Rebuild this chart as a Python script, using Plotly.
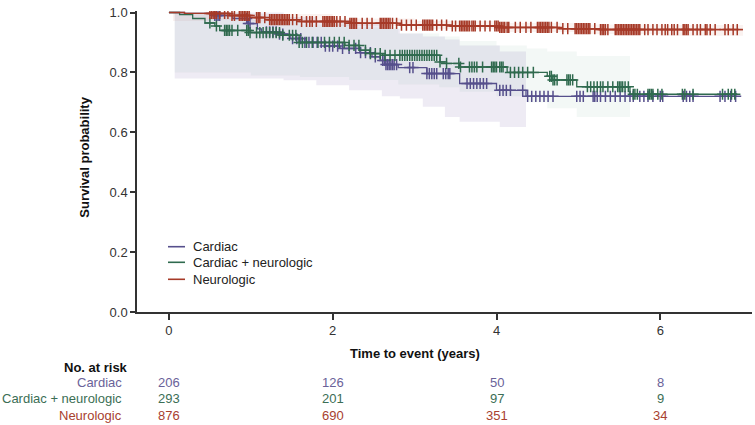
import numpy as np
import plotly.graph_objects as go

# ---------------- data ----------------
cardiac_t = [0.19, 0.56, 0.78, 0.96, 1.08, 1.13, 1.32, 1.48, 1.66, 1.91, 2.09, 2.33, 2.48,
             2.58, 2.64, 2.80, 3.15, 3.55, 4.00, 4.36]
cardiac_s = [0.997, 0.99, 0.98, 0.963, 0.945, 0.935, 0.928, 0.913, 0.90, 0.888, 0.88, 0.866,
             0.852, 0.84, 0.826, 0.816, 0.796, 0.763, 0.74, 0.72]
cardiac_end = 6.94
cardiac_censor = [0.56, 0.58, 0.60, 0.62, 0.95, 0.97, 0.99, 1.19, 1.23, 1.27, 1.31, 1.35, 1.39,
                  1.51, 1.56, 1.61, 1.66, 1.71, 1.76, 1.81, 1.86, 1.91, 1.96, 2.00, 2.06, 2.12,
                  2.20, 2.28, 2.34, 2.40, 2.46, 2.52, 2.61, 2.63, 2.65, 2.67, 2.69, 2.71, 2.73,
                  2.75, 2.78, 2.94, 2.98, 3.15, 3.18, 3.21, 3.24, 3.27, 3.35, 3.38, 3.41, 3.43,
                  3.64, 3.68, 3.72, 3.76, 3.80, 3.84, 3.88, 4.04, 4.08, 4.12, 4.17, 4.32, 4.38,
                  4.43, 4.48, 4.53, 4.58, 4.63, 4.69, 4.98, 5.02, 5.06, 5.18, 5.20, 5.23, 5.27,
                  5.33, 5.39, 5.45, 5.51, 5.57, 5.63, 5.67, 5.75, 5.80, 5.85, 5.91, 6.00, 6.03,
                  6.28, 6.32, 6.36, 6.40, 6.73, 6.79, 6.86, 6.92]
cardiac_band_t = [0.07, 1.40, 1.80, 2.20, 2.60, 2.82, 3.10, 3.37, 3.55, 4.04, 4.36]
cardiac_band_lo = [0.78, 0.774, 0.757, 0.74, 0.72, 0.713, 0.685, 0.651, 0.635, 0.618, 0.618]
cardiac_band_hi = [1.0, 0.985, 0.975, 0.965, 0.945, 0.93, 0.92, 0.91, 0.89, 0.87, 0.87]

cn_t = [0.13, 0.29, 0.44, 0.56, 0.62, 0.99, 1.39, 1.59, 2.15, 2.33, 2.45, 2.61, 3.31, 3.39,
        3.55, 4.13, 4.62, 4.68, 4.98, 5.63]
cn_s = [0.993, 0.98, 0.965, 0.955, 0.94, 0.933, 0.924, 0.90, 0.89, 0.874, 0.863, 0.857, 0.835,
        0.83, 0.818, 0.80, 0.787, 0.775, 0.752, 0.727]
cn_end = 6.94
cn_censor = [0.50, 0.58, 0.68, 0.70, 0.72, 0.74, 0.77, 0.84, 0.95, 0.97, 0.99, 1.07, 1.11, 1.15,
             1.19, 1.23, 1.27, 1.31, 1.35, 1.39, 1.47, 1.51, 1.55, 1.59, 1.63, 1.68, 1.75, 1.82,
             1.90, 1.96, 2.02, 2.08, 2.14, 2.20, 2.26, 2.32, 2.40, 2.46, 2.52, 2.58, 2.64, 2.70,
             2.76, 2.82, 2.85, 2.88, 2.91, 2.94, 2.97, 3.00, 3.03, 3.06, 3.09, 3.12, 3.15, 3.18,
             3.21, 3.24, 3.27, 3.31, 3.39, 3.54, 3.56, 3.67, 3.70, 3.73, 3.76, 3.83, 3.94, 3.96,
             3.98, 4.00, 4.04, 4.06, 4.08, 4.17, 4.22, 4.27, 4.32, 4.38, 4.45, 4.65, 4.67, 4.69,
             4.71, 4.74, 4.86, 4.88, 4.90, 4.93, 5.11, 5.15, 5.19, 5.23, 5.27, 5.30, 5.36, 5.42,
             5.48, 5.50, 5.52, 5.54, 5.57, 5.61, 5.67, 5.69, 5.72, 5.85, 5.87, 5.89, 5.91, 5.97,
             6.02, 6.27, 6.30, 6.40, 6.76, 6.83, 6.87, 6.91]
cn_band_t = [0.07, 1.00, 1.60, 2.20, 2.80, 3.30, 3.55, 4.00, 4.37, 4.62, 4.98, 5.63]
cn_band_lo = [0.80, 0.79, 0.785, 0.775, 0.76, 0.75, 0.735, 0.72, 0.70, 0.68, 0.651, 0.651]
cn_band_hi = [1.0, 0.975, 0.96, 0.95, 0.93, 0.92, 0.905, 0.89, 0.88, 0.87, 0.855, 0.855]

neuro_t = [0.19, 0.74, 0.99, 1.23, 1.59, 2.21, 2.82, 3.43, 4.04, 4.77, 5.26]
neuro_s = [0.997, 0.99, 0.983, 0.976, 0.97, 0.964, 0.958, 0.955, 0.95, 0.946, 0.943]
neuro_end = 7.01
neuro_censor = [0.50, 0.52, 0.54, 0.56, 0.58, 0.62, 0.68, 0.72, 0.77, 0.80, 0.86, 0.88, 0.90,
                0.92, 0.94, 0.96, 0.98, 1.07, 1.09, 1.11, 1.17, 1.23, 1.25, 1.27, 1.29, 1.31,
                1.33, 1.35, 1.37, 1.39, 1.41, 1.43, 1.45, 1.47, 1.51, 1.56, 1.62, 1.68, 1.72,
                1.75, 1.80, 1.88, 1.90, 1.92, 1.94, 1.96, 1.98, 2.00, 2.02, 2.05, 2.09, 2.15,
                2.21, 2.23, 2.25, 2.27, 2.29, 2.36, 2.42, 2.48, 2.58, 2.60, 2.62, 2.64, 2.66,
                2.68, 2.70, 2.73, 2.78, 2.84, 2.90, 2.96, 3.02, 3.10, 3.12, 3.14, 3.16, 3.18,
                3.20, 3.22, 3.27, 3.33, 3.39, 3.46, 3.50, 3.55, 3.57, 3.59, 3.61, 3.63, 3.65,
                3.67, 3.70, 3.72, 3.74, 3.80, 3.86, 3.92, 3.98, 4.00, 4.02, 4.04, 4.06, 4.08,
                4.10, 4.13, 4.15, 4.23, 4.29, 4.36, 4.42, 4.50, 4.52, 4.54, 4.56, 4.58, 4.60,
                4.62, 4.64, 4.67, 4.74, 4.81, 4.87, 4.96, 4.98, 5.00, 5.02, 5.04, 5.06, 5.08,
                5.10, 5.12, 5.14, 5.20, 5.27, 5.29, 5.31, 5.33, 5.36, 5.45, 5.47, 5.49, 5.51,
                5.53, 5.55, 5.57, 5.59, 5.61, 5.63, 5.65, 5.67, 5.69, 5.71, 5.73, 5.75, 5.81,
                5.85, 5.91, 5.96, 6.02, 6.06, 6.09, 6.14, 6.17, 6.21, 6.28, 6.30, 6.32, 6.34,
                6.40, 6.45, 6.49, 6.55, 6.57, 6.61, 6.67, 6.79, 6.83, 6.89, 6.94]
neuro_band_t = [0.05, 0.50, 1.00, 2.00, 3.00, 4.00, 5.00, 6.00, 7.01]
neuro_band_lo = [0.972, 0.975, 0.97, 0.955, 0.945, 0.935, 0.928, 0.922, 0.922]
neuro_band_hi = [1.0, 1.0, 0.995, 0.98, 0.972, 0.965, 0.96, 0.958, 0.958]

risk_times = [0, 2, 4, 6]
risk_cardiac = [206, 126, 50, 8]
risk_cn = [293, 201, 97, 9]
risk_neuro = [876, 690, 351, 34]

group_names = ["Cardiac", "Cardiac + neurologic", "Neurologic"]
x_ticks = [0, 2, 4, 6]
y_ticks = [0.0, 0.2, 0.4, 0.6, 0.8, 1.0]

# ---------------- styling ----------------
col_cardiac = "#564f8c"
col_cn = "#2f6a4e"
col_neuro = "#a63a28"
txt_cardiac = "#6a6299"
txt_cn = "#3b6e55"
txt_neuro = "#a8412f"
FONT = "Liberation Sans, Arial, sans-serif"

fig = go.Figure()


def add_band(t, lo, hi, color):
    fig.add_trace(go.Scatter(x=t, y=hi, mode="lines", line=dict(width=0, shape="hv"),
                             showlegend=False, hoverinfo="skip"))
    fig.add_trace(go.Scatter(x=t, y=lo, mode="lines", line=dict(width=0, shape="hv"),
                             fill="tonexty", fillcolor=color, showlegend=False, hoverinfo="skip"))


add_band(neuro_band_t, neuro_band_lo, neuro_band_hi, "rgba(200,110,90,0.09)")
add_band(cn_band_t, cn_band_lo, cn_band_hi, "rgba(150,190,170,0.11)")
add_band(cardiac_band_t, cardiac_band_lo, cardiac_band_hi, "rgba(140,120,180,0.15)")


def add_curve(name, t, s, end, censor, color):
    xs = [0.0] + list(t) + [end]
    ys = [1.0] + list(s) + [s[-1]]
    fig.add_trace(go.Scatter(x=xs, y=ys, mode="lines", name=name, showlegend=False,
                             line=dict(color=color, width=1.3, shape="hv")))
    tt = np.array([0.0] + list(t))
    ss = np.array([1.0] + list(s))
    idx = np.searchsorted(tt, np.array(censor), side="right") - 1
    fig.add_trace(go.Scatter(x=censor, y=ss[idx], mode="markers", showlegend=False,
                             hoverinfo="skip",
                             marker=dict(symbol="cross-thin", size=8,
                                         line=dict(color=color, width=1.5))))


add_curve(group_names[0], cardiac_t, cardiac_s, cardiac_end, cardiac_censor, col_cardiac)
add_curve(group_names[1], cn_t, cn_s, cn_end, cn_censor, col_cn)
add_curve(group_names[2], neuro_t, neuro_s, neuro_end, neuro_censor, col_neuro)

# ---------------- legend (drawn manually for tight spacing) ----------------
PLOT_W = 615.0
PLOT_H = 301.0
annotations = []
shapes = []
legend_rows = [(group_names[0], col_cardiac, 65.3),
               (group_names[1], col_cn, 49.7),
               (group_names[2], col_neuro, 32.7)]
for name, c, above in legend_rows:
    yy = above / PLOT_H
    shapes.append(dict(type="line", xref="paper", yref="paper", x0=31 / PLOT_W,
                       x1=48 / PLOT_W, y0=yy, y1=yy, line=dict(color=c, width=1.6)))
    annotations.append(dict(text=name, xref="paper", yref="paper", x=54 / PLOT_W, y=yy,
                            xanchor="left", yanchor="middle", showarrow=False,
                            font=dict(size=13, color="#222", family=FONT)))


# ---------------- risk table & titles ----------------
def py(px_below_axis):
    # vertical paper position for a pixel offset below the x axis line
    return -px_below_axis / PLOT_H


annotations.append(dict(text="<b>No. at risk</b>", xref="paper", yref="paper", x=-0.011,
                        y=py(55), xanchor="right", yanchor="middle", showarrow=False,
                        font=dict(size=13, color="#111", family=FONT)))
rows = [(group_names[0], risk_cardiac, txt_cardiac, 70.5),
        (group_names[1], risk_cn, txt_cn, 86.5),
        (group_names[2], risk_neuro, txt_neuro, 103)]
for label, vals, c, off in rows:
    annotations.append(dict(text=label, xref="paper", yref="paper", x=-0.021, y=py(off),
                            xanchor="right", yanchor="middle", showarrow=False,
                            font=dict(size=13, color=c, family=FONT)))
    for tv, v in zip(risk_times, vals):
        annotations.append(dict(text=str(v), xref="x", yref="paper", x=tv, y=py(off),
                                xanchor="center", yanchor="middle", showarrow=False,
                                font=dict(size=13, color=c, family=FONT)))

annotations.append(dict(text="<b>Time to event (years)</b>", xref="x", yref="paper", x=3,
                        y=py(41), xanchor="center", yanchor="middle", showarrow=False,
                        font=dict(size=13, color="#111", family=FONT)))
annotations.append(dict(text="<b>Survival probability</b>", xref="paper", yref="paper",
                        x=-0.085, y=0.515, xanchor="center", yanchor="middle",
                        textangle=-90, showarrow=False,
                        font=dict(size=13, color="#111", family=FONT)))

fig.update_layout(
    width=755, height=425,
    margin=dict(l=137, r=3, t=11, b=113),
    paper_bgcolor="white", plot_bgcolor="white",
    font=dict(family=FONT, size=13, color="#333"),
    showlegend=False,
    annotations=annotations,
    shapes=shapes,
)
fig.update_xaxes(range=[-0.39, 7.12], tickvals=x_ticks, ticktext=[str(v) for v in x_ticks],
                 showgrid=False, zeroline=False, showline=True, linecolor="#333", linewidth=1.5,
                 ticks="outside", ticklen=6, tickwidth=1.5, tickcolor="#333",
                 tickfont=dict(size=13, color="#333"))
fig.update_yaxes(range=[0, 1.005], tickvals=y_ticks, ticktext=[f"{v:.1f}" for v in y_ticks],
                 showgrid=False, zeroline=False, showline=True, linecolor="#333", linewidth=1.5,
                 ticks="outside", ticklen=5, tickwidth=1.5, tickcolor="#333",
                 tickfont=dict(size=13, color="#333"))

# remove the browser's default 8px page margin so the figure sits at the window's corner
fig.write_html("out.html", config={"displayModeBar": False},
               post_script="document.body.style.margin='0px';document.body.style.padding='0px';")
